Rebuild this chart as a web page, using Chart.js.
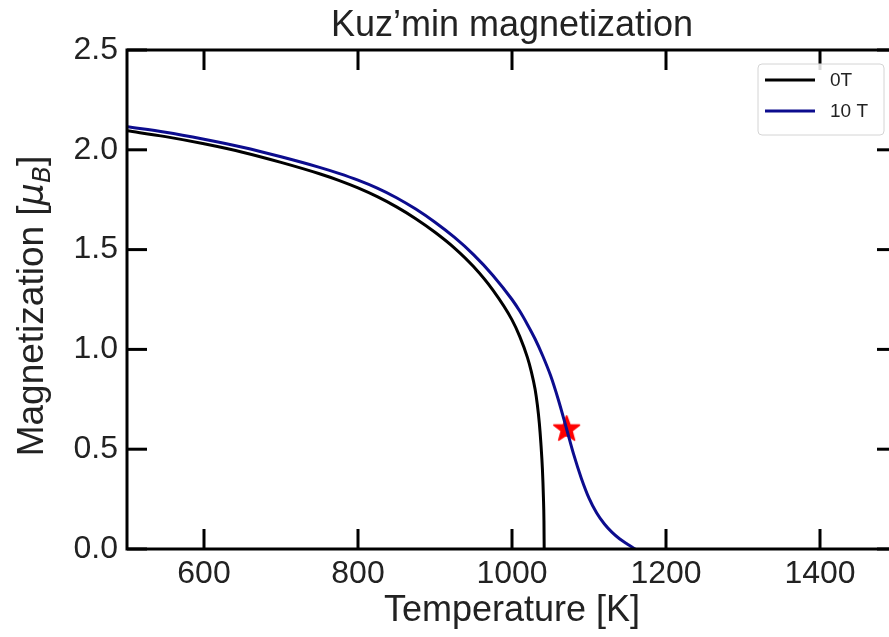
<!DOCTYPE html>
<html>
<head>
<meta charset="utf-8">
<title>Kuz’min magnetization</title>
<script src="https://cdn.jsdelivr.net/npm/chart.js@4.4.0/dist/chart.umd.min.js"></script>
<style>
  html, body { margin: 0; padding: 0; background: #fff; overflow: hidden; }
  #chart-container { width: 920px; height: 637px; }
</style>
</head>
<body>
<div id="chart-container"><canvas id="chart" width="920" height="637"></canvas></div>
<script>
'use strict';

// ***** DATA *****
const temps0T = [500, 550, 600, 650, 700, 750, 775, 800, 825, 850, 875, 900, 925, 950, 975, 1000, 1010, 1020, 1025, 1030, 1033, 1035.5, 1037.5, 1039.5, 1040.8, 1041.5, 1041.8];
const mag0T = [2.095, 2.066, 2.03, 1.988, 1.937, 1.88, 1.847, 1.809, 1.765, 1.714, 1.655, 1.587, 1.509, 1.415, 1.298, 1.148, 1.065, 0.96, 0.89, 0.8, 0.72, 0.63, 0.53, 0.4, 0.26, 0.14, 0];

const temps10T = [500, 550, 600, 650, 700, 750, 775, 800, 825, 850, 875, 900, 925, 950, 975, 1000, 1010, 1020, 1030, 1040, 1050, 1060, 1071, 1080, 1090, 1100, 1110, 1120, 1130, 1140, 1150, 1160];
const mag10T = [2.115, 2.088, 2.053, 2.013, 1.965, 1.912, 1.882, 1.848, 1.808, 1.76, 1.703, 1.637, 1.562, 1.475, 1.372, 1.25, 1.192, 1.125, 1.052, 0.967, 0.87, 0.75, 0.6, 0.475, 0.355, 0.255, 0.18, 0.125, 0.083, 0.05, 0.024, 0];

const starTemps = [1071];
const starMags = [0.6];

const seriesLabels = ['0T', '10 T'];
const xTickValues = [600, 800, 1000, 1200, 1400];
const yTickValues = [0, 0.5, 1, 1.5, 2, 2.5];

// ***** STYLE *****
const FONT = '"Liberation Sans", Arial, sans-serif';
const MATH_FONT = '"DejaVu Sans", sans-serif';
const TEXT_COLOR = '#222';
const TICK_LEN = 20;
const BLUE = '#0c0c8e';

// ***** HELPERS *****
function toPoints(xs, ys){
  return xs.map((x, i) => ({ x: x, y: ys[i] }));
}

function makeStarCanvas(outerR, color){
  const size = Math.ceil(outerR * 2) + 2;
  const c = document.createElement('canvas');
  c.width = size;
  c.height = size;
  const g = c.getContext('2d');
  const cx = size / 2, cy = size / 2, innerR = outerR * 0.42;
  g.beginPath();
  for (let i = 0; i < 10; i++) {
    const r = i % 2 === 0 ? outerR : innerR;
    const a = -Math.PI / 2 + i * Math.PI / 5;
    g.lineTo(cx + r * Math.cos(a), cy + r * Math.sin(a));
  }
  g.closePath();
  g.fillStyle = color;
  g.fill();
  g.lineJoin = 'round';
  g.strokeStyle = color;
  g.lineWidth = 1.5;
  g.stroke();
  return c;
}

function line(ctx, x1, y1, x2, y2){
  ctx.beginPath();
  ctx.moveTo(x1, y1);
  ctx.lineTo(x2, y2);
  ctx.stroke();
}

// frame, inward ticks, title, y label with mathtext, legend
const decorations = {
  id: 'decorations',
  afterDraw(chart){
    const ctx = chart.ctx;
    const a = chart.chartArea;
    const xs = chart.scales.x, ys = chart.scales.y;
    ctx.save();

    ctx.strokeStyle = '#000';
    ctx.lineWidth = 3;
    ctx.lineCap = 'butt';
    xTickValues.forEach(v => {
      const px = xs.getPixelForValue(v);
      line(ctx, px, a.bottom, px, a.bottom - TICK_LEN);
      line(ctx, px, a.top, px, a.top + TICK_LEN);
    });
    yTickValues.forEach(v => {
      const py = ys.getPixelForValue(v);
      line(ctx, a.left, py, a.left + TICK_LEN, py);
      line(ctx, a.right, py, a.right - TICK_LEN, py);
    });
    ctx.strokeRect(a.left, a.top, a.right - a.left, a.bottom - a.top);

    // title
    ctx.fillStyle = TEXT_COLOR;
    ctx.font = '36px ' + FONT;
    ctx.textAlign = 'center';
    ctx.textBaseline = 'middle';
    ctx.fillText('Kuz’min magnetization', (a.left + a.right) / 2, 26);

    // y axis label: Magnetization [μ_B]
    const parts = [
      { text: 'Magnetization [', font: '37px ' + FONT, dy: 0 },
      { text: 'μ', font: 'oblique 35px ' + MATH_FONT, dy: 0 },
      { text: 'B', font: 'oblique 25px ' + MATH_FONT, dy: 7 },
      { text: ']', font: '37px ' + FONT, dy: 0 }
    ];
    let total = 0;
    parts.forEach(p => { ctx.font = p.font; p.w = ctx.measureText(p.text).width; total += p.w; });
    ctx.translate(0, 306);
    ctx.rotate(-Math.PI / 2);
    ctx.textAlign = 'left';
    ctx.textBaseline = 'alphabetic';
    let cx = -total / 2;
    parts.forEach(p => {
      ctx.font = p.font;
      ctx.fillText(p.text, cx, 43 + p.dy);
      cx += p.w;
    });
    ctx.setTransform(1, 0, 0, 1, 0, 0);

    // legend
    const lx = a.right - 139, ly = a.top + 14, lw = 126, lh = 71;
    ctx.beginPath();
    ctx.roundRect(lx, ly, lw, lh, 4);
    ctx.fillStyle = 'rgba(255,255,255,0.85)';
    ctx.fill();
    ctx.strokeStyle = '#d4d4d4';
    ctx.lineWidth = 1;
    ctx.stroke();
    ctx.font = '19px ' + FONT;
    ctx.textAlign = 'left';
    ctx.textBaseline = 'middle';
    chart.data.datasets.slice(0, 2).forEach((ds, i) => {
      const y = ly + 16 + i * 31;
      ctx.strokeStyle = ds.borderColor;
      ctx.lineWidth = 3;
      line(ctx, lx + 7, y, lx + 57, y);
      ctx.fillStyle = TEXT_COLOR;
      ctx.fillText(ds.label, lx + 72, y + 1);
    });
    ctx.restore();
  }
};

// ***** CHART *****
const chartCanvas = document.getElementById('chart');

new Chart(chartCanvas, {
  type: 'line',
  data: {
    datasets: [
      {
        label: seriesLabels[0],
        data: toPoints(temps0T, mag0T),
        borderColor: '#000',
        borderWidth: 3,
        pointRadius: 0,
        cubicInterpolationMode: 'monotone',
        fill: false
      },
      {
        label: seriesLabels[1],
        data: toPoints(temps10T, mag10T),
        borderColor: BLUE,
        borderWidth: 3,
        pointRadius: 0,
        cubicInterpolationMode: 'monotone',
        fill: false
      },
      {
        label: 'point',
        data: toPoints(starTemps, starMags),
        showLine: false,
        pointStyle: makeStarCanvas(13.5, '#ff0000'),
        pointRadius: 14,
        clip: false
      }
    ]
  },
  options: {
    responsive: false,
    animation: false,
    devicePixelRatio: 1,
    layout: { padding: { top: 50, right: 23, left: 0, bottom: 0 } },
    plugins: {
      legend: { display: false },
      tooltip: { enabled: false },
      title: { display: false }
    },
    scales: {
      x: {
        type: 'linear',
        min: 500,
        max: 1500,
        grid: { display: false, drawTicks: false },
        border: { display: false },
        afterBuildTicks: s => { s.ticks = xTickValues.map(v => ({ value: v })); },
        afterFit: s => { s.height = 88; s.paddingLeft = 0; s.paddingRight = 0; },
        ticks: {
          padding: 6,
          color: TEXT_COLOR,
          maxRotation: 0,
          autoSkip: false,
          font: { family: FONT, size: 32 },
          callback: v => String(v)
        },
        title: {
          display: true,
          text: 'Temperature [K]',
          color: TEXT_COLOR,
          font: { family: FONT, size: 36 },
          padding: { top: 0, bottom: 4 }
        }
      },
      y: {
        type: 'linear',
        min: 0,
        max: 2.5,
        grid: { display: false, drawTicks: false },
        border: { display: false },
        afterBuildTicks: s => { s.ticks = yTickValues.map(v => ({ value: v })); },
        afterFit: s => { s.width = 127; s.paddingTop = 0; s.paddingBottom = 0; },
        ticks: {
          padding: 9,
          color: TEXT_COLOR,
          font: { family: FONT, size: 32 },
          callback: v => Number(v).toFixed(1)
        }
      }
    }
  },
  plugins: [decorations]
});
</script>
</body>
</html>
